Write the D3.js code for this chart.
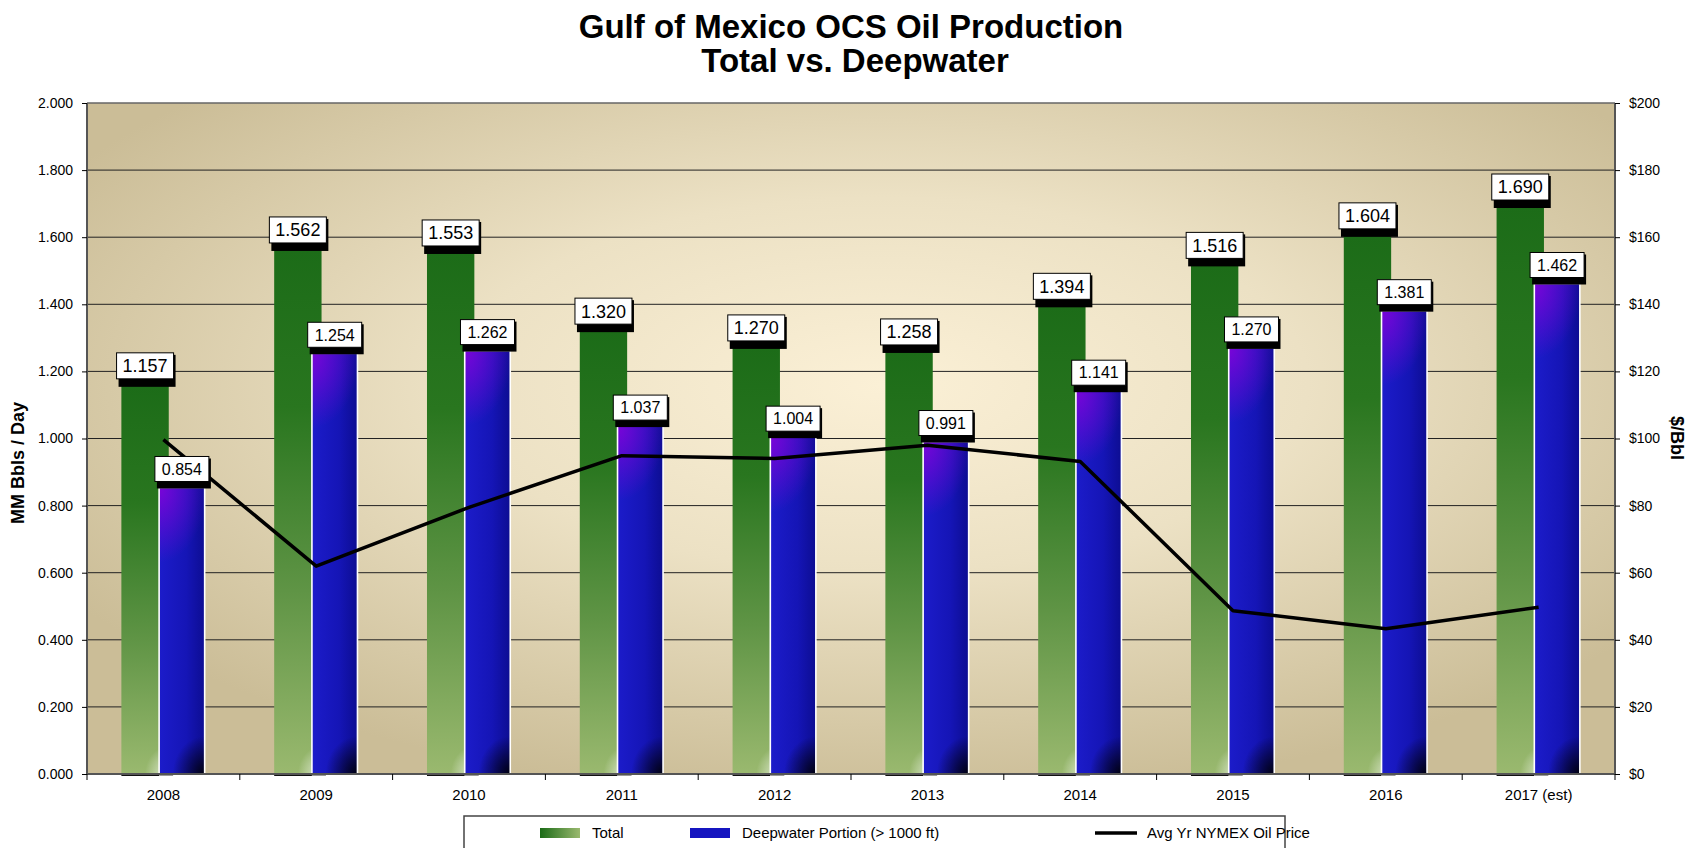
<!DOCTYPE html>
<html>
<head>
<meta charset="utf-8">
<script src="https://cdn.jsdelivr.net/npm/d3@7"></script>
<style>
  body { margin: 0; background: #fff; }
  text { font-family: "Liberation Sans", Arial, sans-serif; fill: #000; }
  .tick-label { font-size: 14px; }
  .cat-label { font-size: 15px; }
  .axis-title { font-size: 18px; font-weight: bold; }
  .title { font-size: 33px; font-weight: bold; }
  .legend-label { font-size: 15px; }
</style>
</head>
<body>
<div id="chart"></div>
<script>
const years = ['2008', '2009', '2010', '2011', '2012', '2013', '2014', '2015', '2016', '2017 (est)'];
const totalProd = [1.157, 1.562, 1.553, 1.320, 1.270, 1.258, 1.394, 1.516, 1.604, 1.690];
const deepwaterProd = [0.854, 1.254, 1.262, 1.037, 1.004, 0.991, 1.141, 1.270, 1.381, 1.462];
const oilPrice = [99.67, 61.95, 79.48, 94.88, 94.05, 97.98, 93.17, 48.66, 43.29, 49.7];
const leftTicks = [0, 0.2, 0.4, 0.6, 0.8, 1.0, 1.2, 1.4, 1.6, 1.8, 2.0];
const rightTicks = [0, 20, 40, 60, 80, 100, 120, 140, 160, 180, 200];

const width = 1699;
const height = 848;
const margin = {top: 103, right: 84, bottom: 74, left: 87};
const plotW = width - margin.left - margin.right;
const plotH = height - margin.top - margin.bottom;

const svg = d3.select('#chart').append('svg')
  .attr('width', width)
  .attr('height', height);

const defs = svg.append('defs');

const bg = defs.append('radialGradient')
  .attr('id', 'bgGrad')
  .attr('cx', '52%').attr('cy', '42%').attr('r', '62%');
bg.append('stop').attr('offset', '0').attr('stop-color', '#fbf0d6');
bg.append('stop').attr('offset', '0.45').attr('stop-color', '#ece1c4');
bg.append('stop').attr('offset', '1').attr('stop-color', '#cbbd97');

const greenGrad = defs.append('linearGradient')
  .attr('id', 'greenGrad')
  .attr('x1', 0).attr('y1', 0).attr('x2', 0).attr('y2', 1);
greenGrad.append('stop').attr('offset', '0').attr('stop-color', '#1c6c18');
greenGrad.append('stop').attr('offset', '0.3').attr('stop-color', '#29761f');
greenGrad.append('stop').attr('offset', '0.65').attr('stop-color', '#5f9445');
greenGrad.append('stop').attr('offset', '1').attr('stop-color', '#9ab96f');

const blueGrad = defs.append('linearGradient')
  .attr('id', 'blueGrad')
  .attr('x1', 0).attr('y1', 0).attr('x2', 1).attr('y2', 0);
blueGrad.append('stop').attr('offset', '0').attr('stop-color', '#1c1cca');
blueGrad.append('stop').attr('offset', '0.6').attr('stop-color', '#1515b6');
blueGrad.append('stop').attr('offset', '1').attr('stop-color', '#0d0d92');

// title
svg.append('text')
  .attr('class', 'title')
  .attr('x', margin.left + plotW / 2)
  .attr('y', 38)
  .style('text-anchor', 'middle')
  .text('Gulf of Mexico OCS Oil Production');
svg.append('text')
  .attr('class', 'title')
  .attr('x', margin.left + plotW / 2 + 4)
  .attr('y', 72)
  .style('text-anchor', 'middle')
  .text('Total vs. Deepwater');

const g = svg.append('g')
  .attr('transform', 'translate(' + margin.left + ',' + margin.top + ')');

const xScale = d3.scaleBand()
  .domain(years)
  .range([0, plotW])
  .padding(0);

const yScale = d3.scaleLinear()
  .domain([0, 2])
  .range([plotH, 0]);

const y2Scale = d3.scaleLinear()
  .domain([0, 200])
  .range([plotH, 0]);

const bw = xScale.bandwidth();
const greenX = d => xScale(d) + bw * 0.225;
const greenW = bw * 0.31;
const blueX = d => xScale(d) + bw * 0.472;
const blueW = bw * 0.298;

// per-bar corner shading, elliptical radial gradients in user space
function cornerGrad(prefix, values, cx, cy, rx, ry, colour, opacity) {
  const grads = defs.selectAll('.' + prefix)
    .data(values)
    .enter()
    .append('radialGradient')
    .attr('id', (d, i) => prefix + i)
    .attr('gradientUnits', 'userSpaceOnUse')
    .attr('cx', 0).attr('cy', 0).attr('r', 1)
    .attr('gradientTransform', (d, i) =>
      'translate(' + cx(d, i) + ',' + cy(d, i) + ') scale(' + rx + ',' + ry + ')');
  grads.append('stop').attr('offset', '0').attr('stop-color', colour).attr('stop-opacity', opacity);
  grads.append('stop').attr('offset', '1').attr('stop-color', colour).attr('stop-opacity', 0);
}
cornerGrad('purple', deepwaterProd, (d, i) => blueX(years[i]), d => yScale(d), blueW * 1.05, 75, '#7a04d8', 1);
cornerGrad('dark', deepwaterProd, (d, i) => blueX(years[i]) + blueW, () => plotH, blueW * 0.7, 38, '#000010', 1);
cornerGrad('light', totalProd, (d, i) => greenX(years[i]) + greenW, () => plotH, greenW * 0.5, 28, '#ffffff', 0.7);

g.append('rect')
  .attr('width', plotW)
  .attr('height', plotH)
  .attr('fill', 'url(#bgGrad)');

// gridlines
g.selectAll('.grid')
  .data(leftTicks.slice(1))
  .enter()
  .append('line')
  .attr('class', 'grid')
  .attr('x1', 0)
  .attr('x2', plotW)
  .attr('y1', d => yScale(d))
  .attr('y2', d => yScale(d))
  .attr('stroke', d => d === 2 ? '#666' : '#222')
  .attr('stroke-width', d => d === 2 ? 1.5 : 1);

// base shadows under bars
g.selectAll('.gshadow')
  .data(years)
  .enter()
  .append('rect')
  .attr('x', d => greenX(d))
  .attr('y', plotH)
  .attr('width', blueX(years[0]) - greenX(years[0]))
  .attr('height', 2)
  .attr('fill', '#111');
g.selectAll('.bshadow')
  .data(years)
  .enter()
  .append('rect')
  .attr('x', d => blueX(d))
  .attr('y', plotH)
  .attr('width', 14)
  .attr('height', 2)
  .attr('fill', '#999');

// total bars
g.selectAll('.total')
  .data(totalProd)
  .enter()
  .append('rect')
  .attr('class', 'total')
  .attr('x', (d, i) => greenX(years[i]))
  .attr('y', d => yScale(d))
  .attr('width', greenW)
  .attr('height', d => plotH - yScale(d))
  .attr('fill', 'url(#greenGrad)');
g.selectAll('.totalLight')
  .data(totalProd)
  .enter()
  .append('rect')
  .attr('x', (d, i) => greenX(years[i]))
  .attr('y', d => yScale(d))
  .attr('width', greenW)
  .attr('height', d => plotH - yScale(d))
  .attr('fill', (d, i) => 'url(#light' + i + ')');

// deepwater bars
g.selectAll('.deep')
  .data(deepwaterProd)
  .enter()
  .append('rect')
  .attr('class', 'deep')
  .attr('x', (d, i) => blueX(years[i]))
  .attr('y', d => yScale(d))
  .attr('width', blueW)
  .attr('height', d => plotH - yScale(d))
  .attr('fill', 'url(#blueGrad)');
['purple', 'dark'].forEach(id => {
  g.selectAll('.deep-' + id)
    .data(deepwaterProd)
    .enter()
    .append('rect')
    .attr('x', (d, i) => blueX(years[i]))
    .attr('y', d => yScale(d))
    .attr('width', blueW)
    .attr('height', d => plotH - yScale(d))
    .attr('fill', (d, i) => 'url(#' + id + i + ')');
});
g.selectAll('.deepBorder')
  .data(deepwaterProd)
  .enter()
  .append('rect')
  .attr('x', (d, i) => blueX(years[i]))
  .attr('y', d => yScale(d))
  .attr('width', blueW)
  .attr('height', d => plotH - yScale(d))
  .attr('fill', 'none')
  .attr('stroke', '#fff')
  .attr('stroke-width', 1.6);

// price line
const line = d3.line()
  .x((d, i) => xScale(years[i]) + bw / 2)
  .y(d => y2Scale(d));

g.append('path')
  .datum(oilPrice)
  .attr('d', line)
  .attr('fill', 'none')
  .attr('stroke', '#000')
  .attr('stroke-width', 3.5)
  .attr('stroke-linejoin', 'round');

// value labels
function addLabels(values, cx, boxW, boxH, gap, fontSize) {
  const lbl = g.selectAll(null)
    .data(values)
    .enter()
    .append('g')
    .attr('transform', (d, i) => 'translate(' + cx(years[i]) + ',' + (yScale(d) - gap - boxH) + ')');
  lbl.append('rect')
    .attr('x', -boxW / 2 + 2)
    .attr('y', 2)
    .attr('width', boxW)
    .attr('height', boxH + gap - 1)
    .attr('fill', '#000');
  lbl.append('rect')
    .attr('x', -boxW / 2)
    .attr('y', 0)
    .attr('width', boxW)
    .attr('height', boxH)
    .attr('fill', '#fff')
    .attr('stroke', '#000')
    .attr('stroke-width', 1);
  lbl.append('text')
    .attr('x', 0)
    .attr('y', boxH / 2)
    .attr('dy', '0.36em')
    .style('text-anchor', 'middle')
    .style('font-size', fontSize + 'px')
    .text(d => d.toFixed(3));
}
addLabels(totalProd, d => greenX(d) + greenW / 2, 57, 26, 7, 18);
addLabels(deepwaterProd, d => blueX(d) + blueW / 2, 54, 25, 6, 16);

// axes frame
g.append('line')
  .attr('x1', 0).attr('x2', 0).attr('y1', 0).attr('y2', plotH)
  .attr('stroke', '#555').attr('stroke-width', 2);
g.append('line')
  .attr('x1', plotW).attr('x2', plotW).attr('y1', 0).attr('y2', plotH)
  .attr('stroke', '#555').attr('stroke-width', 2);
g.append('line')
  .attr('x1', 0).attr('x2', plotW).attr('y1', plotH).attr('y2', plotH)
  .attr('stroke', '#555').attr('stroke-width', 2);

const yAxis = d3.axisLeft(yScale)
  .tickValues(leftTicks)
  .tickSize(5)
  .tickPadding(9)
  .tickFormat(d3.format('.3f'));
const yAxisG = g.append('g').call(yAxis);
yAxisG.select('.domain').remove();
yAxisG.selectAll('text').attr('class', 'tick-label');
yAxisG.selectAll('line').attr('stroke', '#000');

const y2Axis = d3.axisRight(y2Scale)
  .tickValues(rightTicks)
  .tickSize(5)
  .tickPadding(9)
  .tickFormat(d => '$' + d);
const y2AxisG = g.append('g')
  .attr('transform', 'translate(' + plotW + ',0)')
  .call(y2Axis);
y2AxisG.select('.domain').remove();
y2AxisG.selectAll('text').attr('class', 'tick-label');
y2AxisG.selectAll('line').attr('stroke', '#000');

const xAxis = d3.axisBottom(xScale)
  .tickSize(0)
  .tickPadding(15);
const xAxisG = g.append('g')
  .attr('transform', 'translate(0,' + plotH + ')')
  .call(xAxis);
xAxisG.select('.domain').remove();
xAxisG.selectAll('text').attr('class', 'cat-label');
xAxisG.selectAll('.sep')
  .data(d3.range(years.length + 1))
  .enter()
  .append('line')
  .attr('x1', d => d * bw)
  .attr('x2', d => d * bw)
  .attr('y1', 0)
  .attr('y2', 6)
  .attr('stroke', '#000');

svg.selectAll('.tick text')
  .attr('fill', '#000')
  .style('font-family', '"Liberation Sans", Arial, sans-serif');

// axis titles
svg.append('text')
  .attr('class', 'axis-title')
  .attr('transform', 'translate(24,463) rotate(-90)')
  .style('text-anchor', 'middle')
  .text('MM Bbls / Day');
svg.append('text')
  .attr('class', 'axis-title')
  .attr('transform', 'translate(1671,438) rotate(90)')
  .style('text-anchor', 'middle')
  .text('$/Bbl');

// legend
const legGreen = defs.append('linearGradient')
  .attr('id', 'legGreen')
  .attr('x1', 0).attr('y1', 0).attr('x2', 1).attr('y2', 0);
legGreen.append('stop').attr('offset', '0').attr('stop-color', '#1b6b17');
legGreen.append('stop').attr('offset', '1').attr('stop-color', '#9ab96f');

const legend = svg.append('g');
legend.append('rect')
  .attr('x', 464)
  .attr('y', 816)
  .attr('width', 821)
  .attr('height', 50)
  .attr('fill', '#fff')
  .attr('stroke', '#444')
  .attr('stroke-width', 1.5);

const legendItems = [
  {label: 'Total', x: 540, fill: 'url(#legGreen)'},
  {label: 'Deepwater Portion (> 1000 ft)', x: 690, fill: '#1515c0'},
  {label: 'Avg Yr NYMEX Oil Price', x: 1095, fill: null}
];

const li = legend.selectAll('.li')
  .data(legendItems)
  .enter()
  .append('g')
  .attr('transform', d => 'translate(' + d.x + ',833)');
li.filter(d => d.fill)
  .append('rect')
  .attr('x', 0)
  .attr('y', -5)
  .attr('width', 40)
  .attr('height', 10)
  .attr('fill', d => d.fill);
li.filter(d => !d.fill)
  .append('line')
  .attr('x1', 0).attr('x2', 42)
  .attr('y1', 0).attr('y2', 0)
  .attr('stroke', '#000')
  .attr('stroke-width', 3.5);
li.append('text')
  .attr('class', 'legend-label')
  .attr('x', 52)
  .attr('dy', '0.35em')
  .text(d => d.label);
</script>
</body>
</html>
